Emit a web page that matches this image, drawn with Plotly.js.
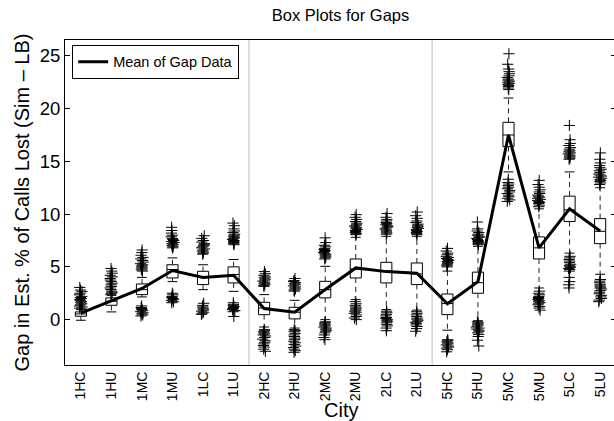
<!DOCTYPE html>
<html>
<head>
<meta charset="utf-8">
<script src="https://cdn.plot.ly/plotly-3.0.1.min.js"></script>
<style>
html,body{margin:0;padding:0;overflow:hidden;background:#fff;}
#chart{width:620px;height:421px;}
</style>
</head>
<body>
<div id="chart"></div>
<script>
const cities = ['1HC','1HU','1MC','1MU','1LC','1LU','2HC','2HU','2MC','2MU','2LC','2LU','5HC','5HU','5MC','5MU','5LC','5LU'];
const q1     = [0.32,1.36,2.37,3.95,3.32,3.48,0.47,0.07,2.06,3.95,3.48,3.32,0.47,2.5,16.4,5.75,9.3,7.2];
const median = [0.54,1.74,2.84,4.75,4.05,4.27,1.1,0.7,2.84,4.8,4.6,4.33,1.52,3.5,17.5,6.8,10.4,8.37];
const q3     = [0.73,2.06,3.38,5.2,4.58,5.0,1.64,1.17,3.63,5.75,5.43,5.37,2.43,4.5,18.7,7.84,11.7,9.57];
const whiskerLow  = [-0.06,0.73,2.15,3.6,2.84,2.68,-0.7,-0.8,0.0,1.9,0.95,0.9,-1.0,-0.1,14.0,3.0,6.3,4.3];
const whiskerHigh = [0.95,2.3,4.0,5.85,5.2,5.7,2.37,1.83,5.05,7.8,7.9,7.9,4.6,6.95,21.0,10.5,14.0,12.5];
const meanGap = [0.62,1.8,2.95,4.65,4.0,4.2,1.05,0.7,2.85,4.9,4.55,4.4,1.5,3.6,17.5,6.8,10.5,8.4];

const outHigh = [
  [1.0,1.1,1.2,1.3,1.4,1.5,1.6,1.7,1.8,1.9,2.0,2.1,2.2,2.35,2.5,2.65,2.8,3.05],
  [2.4,2.5,2.6,2.7,2.85,3.0,3.15,3.3,3.45,3.6,3.75,3.9,4.05,4.2,4.4,4.6,4.85],
  [4.6,4.7,4.8,4.9,5.0,5.1,5.2,5.3,5.45,5.6,5.75,5.9,6.1,6.35,6.6],
  [6.8,6.9,7.0,7.1,7.2,7.3,7.4,7.5,7.6,7.7,7.85,8.0,8.2,8.45,8.75],
  [6.2,6.3,6.4,6.5,6.6,6.7,6.8,6.9,7.0,7.1,7.2,7.35,7.5,7.7,7.95],
  [7.1,7.2,7.3,7.4,7.5,7.6,7.7,7.8,7.9,8.0,8.1,8.25,8.4,8.6,8.9,9.15],
  [3.15,3.25,3.35,3.45,3.55,3.65,3.75,3.85,3.95,4.05,4.2,4.35,4.55],
  [2.7,2.8,2.9,3.0,3.1,3.2,3.3,3.4,3.5,3.6,3.7,3.9],
  [5.75,5.85,5.95,6.05,6.15,6.25,6.35,6.45,6.55,6.65,6.75,6.9,7.05,7.3,7.75],
  [8.05,8.15,8.25,8.35,8.45,8.55,8.65,8.75,8.85,8.95,9.05,9.15,9.3,9.5,9.7,9.95],
  [8.1,8.2,8.3,8.4,8.5,8.6,8.7,8.8,8.9,9.0,9.1,9.2,9.35,9.5,9.7,10.05],
  [8.05,8.15,8.25,8.35,8.45,8.55,8.65,8.75,8.85,8.95,9.05,9.2,9.35,9.6,9.85,10.2],
  [5.0,5.1,5.2,5.3,5.4,5.5,5.6,5.7,5.8,5.9,6.0,6.15,6.3,6.5,6.75],
  [7.1,7.2,7.3,7.4,7.5,7.6,7.7,7.8,7.9,8.0,8.1,8.25,8.4,8.6,9.25],
  [21.8,21.95,22.1,22.2,22.3,22.4,22.5,22.6,22.7,22.8,22.95,23.1,23.3,23.5,23.75,24.2,25.2],
  [10.7,10.85,11.0,11.1,11.2,11.3,11.4,11.5,11.6,11.7,11.8,11.95,12.1,12.3,12.55,12.8,13.2],
  [15.2,15.3,15.4,15.5,15.6,15.7,15.8,15.9,16.0,16.15,16.3,16.5,16.7,17.05,18.4],
  [12.8,12.95,13.1,13.2,13.3,13.4,13.5,13.6,13.7,13.8,13.95,14.1,14.25,14.4,14.6,14.85,15.2,15.8]
];
const outLow = [
  [],
  [],
  [0.35,0.45,0.55,0.65,0.75,0.85,0.95,1.05,1.15,1.3],
  [1.6,1.7,1.8,1.9,2.0,2.1,2.2,2.35,2.5],
  [0.5,0.6,0.7,0.8,0.9,1.0,1.1,1.2,1.35,1.55],
  [0.3,0.75,0.85,0.95,1.05,1.15,1.25,1.35,1.45,1.6],
  [-0.95,-1.05,-1.15,-1.25,-1.35,-1.45,-1.55,-1.7,-1.85,-2.0,-2.15,-2.3,-2.45,-2.6,-2.8,-3.0],
  [-0.95,-1.05,-1.15,-1.3,-1.45,-1.6,-1.75,-1.9,-2.05,-2.2,-2.35,-2.5,-2.65,-2.8,-2.95,-3.1],
  [-0.2,-0.3,-0.4,-0.5,-0.6,-0.7,-0.8,-0.9,-1.0,-1.1,-1.25,-1.45,-1.7,-1.9],
  [0.0,0.15,0.3,0.45,0.6,0.7,0.8,0.9,1.0,1.1,1.2,1.35,1.5,1.7],
  [0.8,0.65,0.5,0.35,0.2,0.1,0.0,-0.1,-0.2,-0.3,-0.45,-0.6,-0.8,-1.05],
  [0.75,0.6,0.45,0.3,0.15,0.05,-0.05,-0.15,-0.25,-0.35,-0.5,-0.65,-0.85,-1.1],
  [-1.9,-2.0,-2.1,-2.2,-2.3,-2.4,-2.5,-2.6,-2.7,-2.85,-3.05],
  [-0.2,-0.3,-0.4,-0.5,-0.6,-0.7,-0.8,-0.9,-1.0,-1.1,-1.25,-1.4,-1.6,-1.95,-2.5],
  [11.2,11.35,11.5,11.65,11.8,11.95,12.1,12.25,12.4,12.55,12.7,12.85,13.0,13.3],
  [0.9,1.1,1.25,1.4,1.5,1.6,1.7,1.8,1.9,2.0,2.1,2.2,2.35,2.5,2.7],
  [3.0,3.3,3.6,4.0,4.6,4.75,4.85,4.95,5.05,5.15,5.25,5.4,5.55,5.7,5.85,6.0],
  [1.7,1.85,2.0,2.15,2.3,2.45,2.6,2.75,2.9,3.0,3.1,3.2,3.35,3.5,3.65,3.8]
];

const yTicks = [0,5,10,15,20,25];
const FONT = 'Liberation Sans, Arial, Helvetica, sans-serif';

// whisker segments
const wx = [], wy = [], capX = [], capY = [];
cities.forEach((c,i)=>{
  wx.push(c,c,null,c,c,null);
  wy.push(q3[i],whiskerHigh[i],null,q1[i],whiskerLow[i],null);
  capX.push(c,c); capY.push(whiskerHigh[i],whiskerLow[i]);
});
// outliers
const ox = [], oy = [];
cities.forEach((c,i)=>{
  outHigh[i].forEach(v=>{ox.push(c);oy.push(v);});
  outLow[i].forEach(v=>{ox.push(c);oy.push(v);});
});

const traces = [
  {
    type:'box', x: ox, y: oy, boxpoints:'all', jitter:0.3, pointpos:0,
    fillcolor:'rgba(0,0,0,0)', line:{width:0,color:'rgba(0,0,0,0)'},
    marker:{symbol:'cross-thin', size:8, color:'#000', line:{width:1,color:'#000'}},
    showlegend:false, hoverinfo:'skip'
  },
  {
    type:'scatter', mode:'lines', x: wx, y: wy,
    line:{color:'#222', width:1, dash:'5px,4px'}, showlegend:false, hoverinfo:'skip'
  },
  {
    type:'scatter', mode:'markers', x: capX, y: capY,
    marker:{symbol:'line-ew', size:7, line:{width:1,color:'#000'}}, showlegend:false, hoverinfo:'skip'
  },
  {
    type:'box', x: cities, q1: q1, median: median, q3: q3,
    lowerfence: q1, upperfence: q3,
    fillcolor:'rgba(255,255,255,0)', line:{color:'#000', width:1},
    whiskerwidth:0, boxpoints:false, showlegend:false, hoverinfo:'skip'
  },
  {
    type:'scatter', mode:'lines', x: cities, y: meanGap, name:'Mean of Gap Data',
    line:{color:'#000', width:3}, showlegend:true
  }
];

const layout = {
  width:620, height:421,
  margin:{l:65, r:4, t:40, b:56},
  paper_bgcolor:'#fff', plot_bgcolor:'#fff',
  font:{family:FONT, color:'#000', size:14},
  title:{text:'Box Plots for Gaps', font:{size:16.5, family:FONT}, xref:'paper', x:0.5, xanchor:'center', y:0.965, yanchor:'middle'},
  boxgap:0.48, boxmode:'overlay',
  showlegend:true,
  legend:{x:0.013, y:0.985, xanchor:'left', yanchor:'top', bgcolor:'#fff', bordercolor:'#000', borderwidth:1,
          font:{size:14.5, family:FONT}, tracegroupgap:0, itemwidth:30},
  xaxis:{
    type:'category', categoryarray: cities, range:[-0.52, 17.52],
    showline:true, linecolor:'#000', linewidth:1, mirror:true,
    ticks:'', showgrid:false, zeroline:false, tickangle:-90,
    tickfont:{size:14, family:FONT}
  },
  yaxis:{
    range:[-4.3, 26.5], tickvals: yTicks, ticktext: yTicks.map(String),
    showline:true, linecolor:'#000', linewidth:1, mirror:'ticks',
    ticks:'inside', ticklen:5, tickcolor:'#000', showgrid:false, zeroline:false,
    tickfont:{size:18.5, family:FONT},
    title:{text:'Gap in Est. % of Calls Lost (Sim \u2013 LB)', font:{size:20, family:FONT}, standoff:4}
  },
  shapes:[
    {type:'line', xref:'x', yref:'paper', x0:5.5, x1:5.5, y0:0, y1:1, line:{color:'#d4d4d4', width:1.5}, layer:'below'},
    {type:'line', xref:'x', yref:'paper', x0:11.5, x1:11.5, y0:0, y1:1, line:{color:'#d4d4d4', width:1.5}, layer:'below'}
  ],
  annotations:[
    {text:'City', xref:'paper', yref:'paper', x:0.5, y:-0.138, xanchor:'center', yanchor:'middle', showarrow:false, font:{size:20, family:FONT}}
  ]
};

Plotly.newPlot('chart', traces, layout, {displayModeBar:false, staticPlot:true});
</script>
</body>
</html>
